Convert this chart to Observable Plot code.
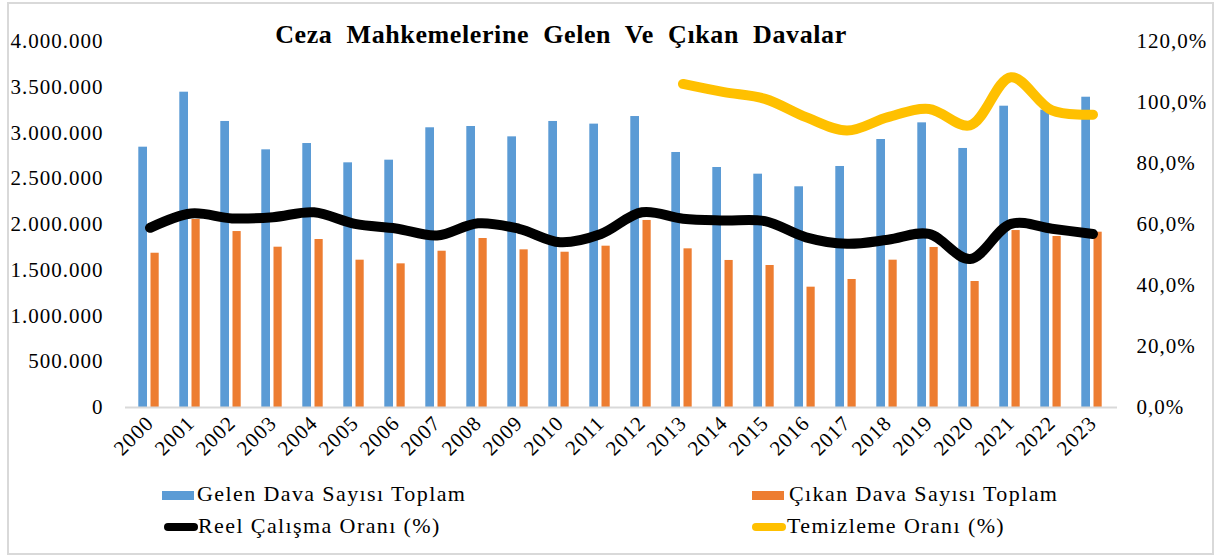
<!DOCTYPE html>
<html>
<head>
<meta charset="utf-8">
<script src="https://cdn.jsdelivr.net/npm/d3@7"></script>
<script src="https://cdn.jsdelivr.net/npm/@observablehq/plot@0.6"></script>
<style>
  html, body { margin: 0; padding: 0; background: #fff; }
  #wrap { position: relative; width: 1225px; height: 556px; font-family: "Liberation Serif", "Times New Roman", serif; }
  #border { position: absolute; left: 7px; top: 2px; width: 1203px; height: 549px; border: 2px solid #d9d9d9; pointer-events: none; }
  #title { position: absolute; left: 0; width: 1122px; top: 20px; text-align: center; font-weight: bold; font-size: 26px; word-spacing: 7px; letter-spacing: 0.6px; color: #000; }
  #chart { position: absolute; left: 0; top: 0; }
  #chart svg text { letter-spacing: 1px; }
  .lg { position: absolute; font-size: 22px; letter-spacing: 1.4px; color: #000; line-height: 22px; white-space: nowrap; }
  .sw { position: absolute; }
</style>
</head>
<body>
<div id="wrap">
  <div id="chart"></div>
  <div id="title">Ceza Mahkemelerine Gelen Ve Çıkan Davalar</div>
  <div id="legend"></div>
  <div id="border"></div>
</div>
<script>
const years = ["2000","2001","2002","2003","2004","2005","2006","2007","2008","2009","2010","2011","2012","2013","2014","2015","2016","2017","2018","2019","2020","2021","2022","2023"];
const gelen = [2845000,3446000,3126000,2816000,2885000,2674000,2703000,3057000,3071000,2958000,3126000,3097000,3180000,2787000,2623000,2550000,2412000,2634000,2929000,3111000,2831000,3293000,3250000,3391000];
const cikan = [1686000,2055000,1923000,1752000,1836000,1610000,1570000,1708000,1847000,1723000,1697000,1763000,2044000,1734000,1607000,1552000,1315000,1399000,1610000,1749000,1377000,1934000,1869000,1916000];
const reel = [0.589,0.636,0.620,0.624,0.640,0.602,0.587,0.564,0.604,0.586,0.542,0.569,0.640,0.619,0.613,0.611,0.558,0.537,0.550,0.569,0.487,0.602,0.586,0.569];
const temizleme = [null,null,null,null,null,null,null,null,null,null,null,null,null,1.061,1.034,1.012,0.952,0.908,0.952,0.979,0.925,1.083,0.974,0.960];
const leftTicks = [0,500000,1000000,1500000,2000000,2500000,3000000,3500000,4000000];
const rightTicks = [0,0.2,0.4,0.6,0.8,1.0,1.2];
const seriesNames = ["Gelen Dava Sayısı Toplam","Çıkan Dava Sayısı Toplam","Reel Çalışma Oranı (%)","Temizleme Oranı (%)"];
const colors = ["#5B9BD5","#ED7D31","#000000","#FFC000"];

const YMAX = 4000000, PMAX = 1.2, K = YMAX / PMAX;
const loc = d3.formatLocale({decimal: ",", thousands: ".", grouping: [3], currency: ["", " ₺"]});
const nfmt = loc.format(",.0f");
const pfmt = loc.format(".1%");

const rows = years.map((y, i) => ({year: y, gelen: gelen[i], cikan: cikan[i], reel: reel[i], tem: temizleme[i]}));
const temRows = rows.filter(d => d.tem != null);

const plot = Plot.plot({
  width: 1225,
  height: 470,
  marginLeft: 125,
  marginRight: 108,
  marginTop: 41,
  marginBottom: 63,
  style: {fontFamily: "'Liberation Serif', 'Times New Roman', serif", fontSize: "21px", color: "#000", background: "transparent"},
  x: {type: "band", domain: years, padding: 0},
  y: {domain: [0, YMAX]},
  marks: [
    Plot.axisY(leftTicks, {anchor: "left", tickSize: 0, tickPadding: 22, tickFormat: nfmt, fontSize: 21, label: null}),
    Plot.axisY(rightTicks.map(p => p * K), {anchor: "right", tickSize: 0, tickPadding: 19, tickFormat: v => pfmt(v / K), fontSize: 21, textAnchor: "start", label: null}),
    Plot.axisX({tickRotate: -45, tickSize: 0, tickPadding: 12, fontSize: 21, label: null}),
    Plot.barY(rows, {x: "year", y: "gelen", fill: colors[0], insetLeft: 9.3, insetRight: 23}),
    Plot.barY(rows, {x: "year", y: "cikan", fill: colors[1], insetLeft: 21.5, insetRight: 11.3}),
    Plot.ruleY([0], {stroke: "#d9d9d9", strokeWidth: 2}),
    Plot.line(rows, {x: "year", y: d => d.reel * K, stroke: colors[2], strokeWidth: 10, curve: "catmull-rom", strokeLinecap: "round", strokeLinejoin: "round"}),
    Plot.line(temRows, {x: "year", y: d => d.tem * K, stroke: colors[3], strokeWidth: 10, curve: "catmull-rom", strokeLinecap: "round", strokeLinejoin: "round"})
  ]
});
document.getElementById("chart").appendChild(plot);

// legend
const lg = document.getElementById("legend");
const items = [
  {name: seriesNames[0], color: colors[0], type: "rect", sx: 162, tx: 197, cy: 495},
  {name: seriesNames[1], color: colors[1], type: "rect", sx: 752, tx: 789, cy: 495},
  {name: seriesNames[2], color: colors[2], type: "line", sx: 164, tx: 198, cy: 527},
  {name: seriesNames[3], color: colors[3], type: "line", sx: 752, tx: 787, cy: 527}
];
items.forEach(it => {
  const sw = document.createElement("div");
  sw.className = "sw";
  sw.style.background = it.color;
  if (it.type === "rect") {
    sw.style.left = it.sx + "px"; sw.style.width = "32px"; sw.style.top = (it.cy - 4.5) + "px"; sw.style.height = "9px";
  } else {
    sw.style.left = it.sx + "px"; sw.style.width = "34px"; sw.style.top = (it.cy - 4) + "px"; sw.style.height = "8px"; sw.style.borderRadius = "4px";
  }
  lg.appendChild(sw);
  const t = document.createElement("div");
  t.className = "lg";
  t.textContent = it.name;
  t.style.left = it.tx + "px";
  t.style.top = (it.cy - 12) + "px";
  lg.appendChild(t);
});
</script>
</body>
</html>
